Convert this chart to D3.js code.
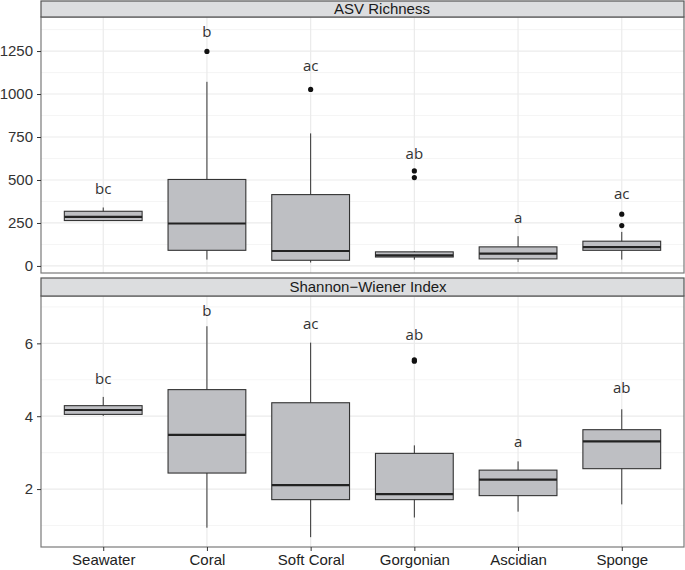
<!DOCTYPE html>
<html>
<head>
<meta charset="utf-8">
<script src="https://cdn.jsdelivr.net/npm/d3@7"></script>
<style>
  body { margin: 0; background: #fff; }
  text { font-family: "Liberation Sans", Arial, sans-serif; }
</style>
</head>
<body>
<script>
const groups = ['Seawater', 'Coral', 'Soft Coral', 'Gorgonian', 'Ascidian', 'Sponge'];

// [lower whisker, Q1, median, Q3, upper whisker]
const richnessStats = [
  [264, 264, 285, 318, 340],
  [37, 91, 247, 503, 1071],
  [20, 33, 87, 415, 771],
  [37, 52, 62, 82, 86],
  [23, 41, 72, 111, 173],
  [37, 91, 109, 144, 198]
];
const richnessOutliers = [[], [1248], [1027], [553, 514], [], [301, 235]];
const richnessLetters = ['bc', 'b', 'ac', 'ab', 'a', 'ac'];
const richnessLetterY = [450, 1360, 1162, 654, 282, 421];
const richnessTicks = [0, 250, 500, 750, 1000, 1250];

const shannonStats = [
  [4.01, 4.05, 4.17, 4.29, 4.53],
  [0.94, 2.44, 3.49, 4.73, 6.47],
  [0.68, 1.71, 2.11, 4.37, 6.02],
  [1.22, 1.71, 1.86, 2.98, 3.20],
  [1.38, 1.82, 2.26, 2.52, 2.76],
  [1.58, 2.56, 3.31, 3.63, 4.19]
];
const shannonOutliers = [[], [], [], [5.51, 5.55], [], []];
const shannonLetters = ['bc', 'b', 'ac', 'ab', 'a', 'ab'];
const shannonLetterY = [5.04, 6.89, 6.53, 6.23, 3.29, 4.79];
const shannonTicks = [2, 4, 6];

const W = 685, H = 570;
const left = 41, right = 684;

const svg = d3.select('body').append('svg')
  .attr('width', W).attr('height', H);

const x = d3.scalePoint().domain(groups).range([left, right]).padding(0.6);
const boxW = x.step() * 0.75;

const panels = [
  { title: 'ASV Richness', titleX: 382, stripTop: 1, top: 17, bottom: 273,
    domain: [-41, 1448], ticks: richnessTicks,
    stats: richnessStats, outliers: richnessOutliers,
    letters: richnessLetters, letterY: richnessLetterY },
  { title: 'Shannon\u2212Wiener Index', titleX: 368, stripTop: 278, top: 296, bottom: 547,
    domain: [0.41, 7.30], ticks: shannonTicks,
    stats: shannonStats, outliers: shannonOutliers,
    letters: shannonLetters, letterY: shannonLetterY }
];

panels.forEach((p, pi) => {
  const y = d3.scaleLinear().domain(p.domain).range([p.bottom, p.top]);
  const g = svg.append('g');

  // grid
  const step = p.ticks[1] - p.ticks[0];
  const minor = p.ticks.map(t => t - step / 2).concat([p.ticks[p.ticks.length - 1] + step / 2])
    .filter(v => v > p.domain[0] && v < p.domain[1]);
  g.selectAll('.minor').data(minor).join('line')
    .attr('x1', left).attr('x2', right)
    .attr('y1', d => y(d)).attr('y2', d => y(d))
    .attr('stroke', '#f2f2f2').attr('stroke-width', 0.8);
  g.selectAll('.major').data(p.ticks).join('line')
    .attr('x1', left).attr('x2', right)
    .attr('y1', d => y(d)).attr('y2', d => y(d))
    .attr('stroke', '#ebebeb').attr('stroke-width', 1.2);
  g.selectAll('.vgrid').data(groups).join('line')
    .attr('x1', d => x(d)).attr('x2', d => x(d))
    .attr('y1', p.top).attr('y2', p.bottom)
    .attr('stroke', '#ebebeb').attr('stroke-width', 1.2);

  // boxes
  const bx = g.selectAll('.box').data(groups).join('g');
  bx.append('line')
    .attr('x1', d => x(d)).attr('x2', d => x(d))
    .attr('y1', (d, i) => y(p.stats[i][0])).attr('y2', (d, i) => y(p.stats[i][4]))
    .attr('stroke', '#333').attr('stroke-width', 1);
  bx.append('rect')
    .attr('x', d => x(d) - boxW / 2).attr('width', boxW)
    .attr('y', (d, i) => y(p.stats[i][3]))
    .attr('height', (d, i) => y(p.stats[i][1]) - y(p.stats[i][3]))
    .attr('fill', '#bebfc3').attr('stroke', '#333').attr('stroke-width', 1.1);
  bx.append('line')
    .attr('x1', d => x(d) - boxW / 2).attr('x2', d => x(d) + boxW / 2)
    .attr('y1', (d, i) => y(p.stats[i][2])).attr('y2', (d, i) => y(p.stats[i][2]))
    .attr('stroke', '#222').attr('stroke-width', 2.2);

  // outliers
  groups.forEach((grp, i) => {
    g.selectAll(null).data(p.outliers[i]).join('circle')
      .attr('cx', x(grp)).attr('cy', d => y(d)).attr('r', 2.6)
      .attr('fill', '#111');
  });

  // letters
  g.selectAll('.letter').data(groups).join('text')
    .attr('x', d => x(d)).attr('y', (d, i) => y(p.letterY[i]))
    .attr('text-anchor', 'middle').attr('dy', '0.35em')
    .attr('font-size', 15).attr('fill', '#333')
    .style('font-family', '"Open Sans", "Noto Sans", sans-serif')
    .text((d, i) => p.letters[i]);

  // panel border
  g.append('rect')
    .attr('x', left).attr('y', p.top).attr('width', right - left).attr('height', p.bottom - p.top)
    .attr('fill', 'none').attr('stroke', '#7a7a7a').attr('stroke-width', 1.2);

  // strip
  g.append('rect')
    .attr('x', left).attr('y', p.stripTop).attr('width', right - left).attr('height', p.top - p.stripTop)
    .attr('fill', '#dcdddf').attr('stroke', '#555').attr('stroke-width', 1.2);
  g.append('text')
    .attr('x', p.titleX).attr('y', (p.stripTop + p.top) / 2)
    .attr('dy', '0.36em').attr('text-anchor', 'middle')
    .attr('font-size', 15).attr('fill', '#1a1a1a')
    .text(p.title);

  // y axis
  const ax = g.append('g').attr('transform', `translate(${left},0)`)
    .call(d3.axisLeft(y).tickValues(p.ticks).tickSize(4).tickPadding(4).tickFormat(d3.format('d')));
  ax.select('.domain').remove();
  ax.selectAll('line').attr('stroke', '#333');
  ax.selectAll('text').attr('font-size', 15).attr('fill', '#333')
    .style('font-family', '"Liberation Sans", Arial, sans-serif');

  // x axis ticks
  if (pi === 1) {
    const xa = g.append('g').attr('transform', `translate(0,${p.bottom})`)
      .call(d3.axisBottom(x).tickSize(4).tickPadding(3));
    xa.select('.domain').remove();
    xa.selectAll('line').attr('stroke', '#333');
    xa.selectAll('text').attr('font-size', 15).attr('fill', '#222')
      .style('font-family', '"Liberation Sans", Arial, sans-serif');
  }
});
</script>
</body>
</html>
